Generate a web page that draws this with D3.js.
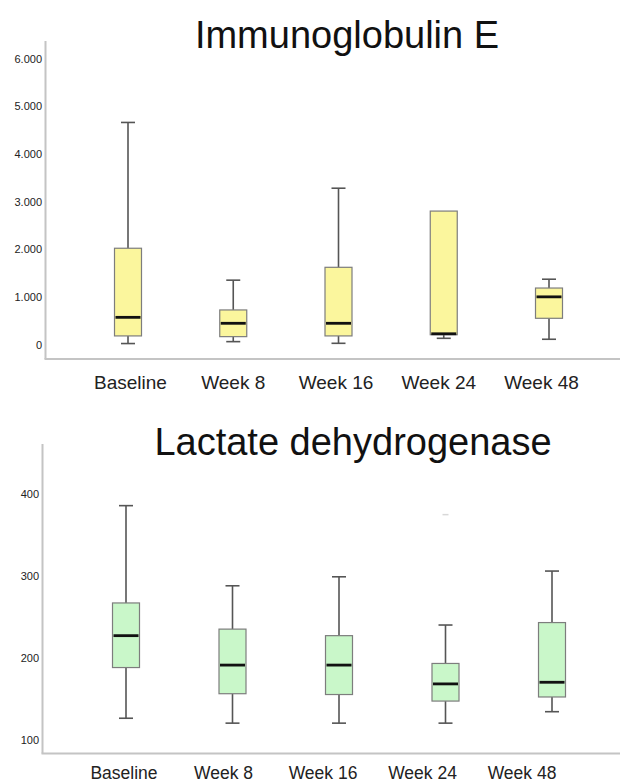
<!DOCTYPE html>
<html>
<head>
<meta charset="utf-8">
<script src="https://cdn.jsdelivr.net/npm/d3@7"></script>
<style>
  html, body { margin: 0; padding: 0; background: #fff; }
  svg { display: block; }
</style>
</head>
<body>
<svg id="chart" width="620" height="784"></svg>
<script>
// ---------- DATA ----------
const categories = ["Baseline", "Week 8", "Week 16", "Week 24", "Week 48"];

// Immunoglobulin E  (min, Q1, median, Q3, max)
const igeMin    = [20, 60, 25, 130, 110];
const igeQ1     = [180, 165, 180, 205, 550];
const igeMedian = [570, 445, 445, 225, 1000];
const igeQ3     = [2020, 725, 1620, 2800, 1185];
const igeMax    = [4660, 1350, 3280, 2800, 1370];
const igeTicks  = [0, 1000, 2000, 3000, 4000, 5000, 6000];

// Lactate dehydrogenase  (min, Q1, median, Q3, max)
const ldhMin    = [126, 120, 120, 120, 134];
const ldhQ1     = [188, 156, 155, 147, 152];
const ldhMedian = [227, 191, 191, 168, 170];
const ldhQ3     = [267, 235, 227, 193, 243];
const ldhMax    = [386, 288, 299, 240, 306];
const ldhOutlier = [null, null, null, 375, null];
const ldhTicks  = [100, 200, 300, 400];

const titles = ["Immunoglobulin E", "Lactate dehydrogenase"];

// ---------- DRAW ----------
const svg = d3.select("#chart");
const FONT = "'Liberation Sans', Arial, Helvetica, sans-serif";

function panel(cfg) {
  const g = svg.append("g");
  const y = d3.scaleLinear().domain(cfg.domain).range(cfg.yRange);
  const x = d3.scalePoint().domain(categories).range(cfg.xRange);
  const xl = d3.scalePoint().domain(categories).range(cfg.labelRange);

  // axis lines
  g.append("line").attr("x1", cfg.axisX).attr("x2", cfg.axisX)
    .attr("y1", cfg.axisTop).attr("y2", cfg.axisBottom)
    .attr("stroke", "#c4c4c4").attr("stroke-width", 2);
  g.append("line").attr("x1", cfg.axisX - 1).attr("x2", 620)
    .attr("y1", cfg.axisBottom).attr("y2", cfg.axisBottom)
    .attr("stroke", "#c4c4c4").attr("stroke-width", 2);

  // y tick labels via d3 axis (no lines)
  const yAxis = d3.axisLeft(y).tickValues(cfg.ticks).tickSize(0).tickPadding(0)
    .tickFormat(cfg.fmt);
  const ag = g.append("g").attr("transform", `translate(${cfg.labelX},0)`).call(yAxis);
  ag.select(".domain").remove();
  ag.selectAll("text").attr("font-family", FONT).attr("font-size", cfg.tickSize)
    .attr("fill", "#222");

  // title
  g.append("text").attr("x", cfg.titleX).attr("y", cfg.titleY)
    .attr("text-anchor", "middle").attr("font-family", FONT)
    .attr("font-size", 38).attr("fill", "#111").text(cfg.title);

  // x labels
  g.selectAll("text.xl").data(categories).enter().append("text")
    .attr("class", "xl")
    .attr("x", d => xl(d)).attr("y", cfg.labelY)
    .attr("text-anchor", "middle").attr("font-family", FONT)
    .attr("font-size", cfg.xFont).attr("fill", "#222").text(d => d);

  const bw = 27, cap = 14;
  categories.forEach((c, i) => {
    const cx = x(c);
    const bg = g.append("g");
    // whiskers
    if (cfg.max[i] > cfg.q3[i]) {
      bg.append("line").attr("x1", cx).attr("x2", cx)
        .attr("y1", y(cfg.q3[i])).attr("y2", y(cfg.max[i]))
        .attr("stroke", "#555").attr("stroke-width", 1.6);
      bg.append("line").attr("x1", cx - cap / 2).attr("x2", cx + cap / 2)
        .attr("y1", y(cfg.max[i])).attr("y2", y(cfg.max[i]))
        .attr("stroke", "#555").attr("stroke-width", 1.6);
    }
    if (cfg.min[i] < cfg.q1[i]) {
      bg.append("line").attr("x1", cx).attr("x2", cx)
        .attr("y1", y(cfg.q1[i])).attr("y2", y(cfg.min[i]))
        .attr("stroke", "#555").attr("stroke-width", 1.6);
      bg.append("line").attr("x1", cx - cap / 2).attr("x2", cx + cap / 2)
        .attr("y1", y(cfg.min[i])).attr("y2", y(cfg.min[i]))
        .attr("stroke", "#555").attr("stroke-width", 1.6);
    }
    // box
    bg.append("rect").attr("x", cx - bw / 2).attr("width", bw)
      .attr("y", y(cfg.q3[i])).attr("height", y(cfg.q1[i]) - y(cfg.q3[i]))
      .attr("fill", cfg.fill).attr("stroke", "#7d7d7d").attr("stroke-width", 1.2);
    // median
    bg.append("line").attr("x1", cx - bw / 2 + 1).attr("x2", cx + bw / 2 - 1)
      .attr("y1", y(cfg.med[i])).attr("y2", y(cfg.med[i]))
      .attr("stroke", "#111").attr("stroke-width", 2.8);
    // faint outlier mark
    if (cfg.outlier && cfg.outlier[i] != null) {
      bg.append("line").attr("x1", cx - 3).attr("x2", cx + 3)
        .attr("y1", y(cfg.outlier[i])).attr("y2", y(cfg.outlier[i]))
        .attr("stroke", "#d8d8d8").attr("stroke-width", 1.5);
    }
  });
}

panel({
  title: titles[0], titleX: 347, titleY: 48,
  domain: [0, 6000], yRange: [344.5, 58.6],
  xRange: [128, 549], labelRange: [130.5, 541.5], labelY: 389, xFont: 19,
  axisX: 45.5, axisTop: 41, axisBottom: 359,
  labelX: 42, ticks: igeTicks, tickSize: 11,
  fmt: d => d === 0 ? "0" : d3.format(",")(d).replace(/,/g, "."),
  min: igeMin, q1: igeQ1, med: igeMedian, q3: igeQ3, max: igeMax,
  fill: "#fbf69d"
});

panel({
  title: titles[1], titleX: 353, titleY: 455,
  domain: [100, 400], yRange: [739.5, 494.2],
  xRange: [126, 552], labelRange: [124, 522], labelY: 779, xFont: 17.5,
  axisX: 42.5, axisTop: 444, axisBottom: 753.5,
  labelX: 39, ticks: ldhTicks, tickSize: 11,
  fmt: d => String(d),
  min: ldhMin, q1: ldhQ1, med: ldhMedian, q3: ldhQ3, max: ldhMax, outlier: ldhOutlier,
  fill: "#c9f7c9"
});
</script>
</body>
</html>
